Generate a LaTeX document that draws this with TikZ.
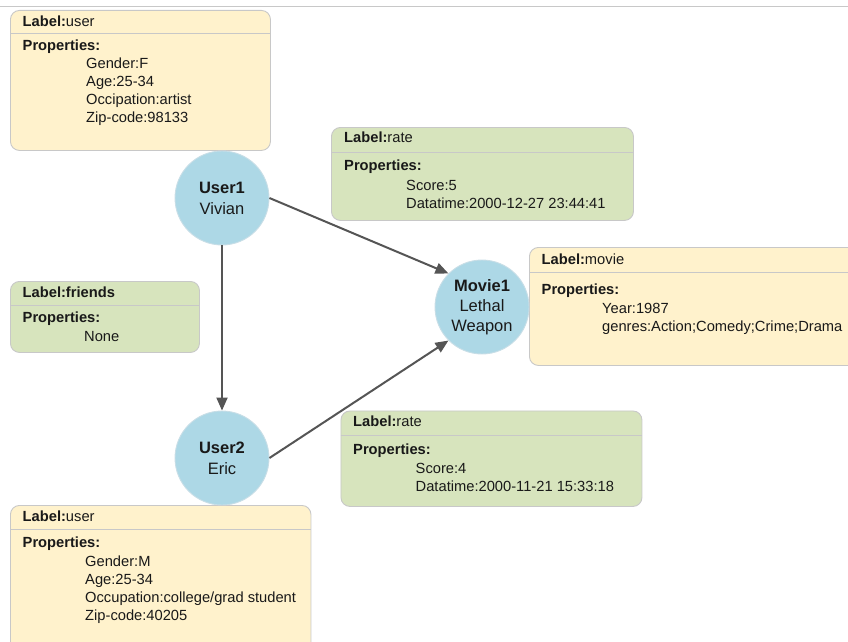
\documentclass[tikz,border=0pt]{standalone}
\usepackage{fontspec}
\setmainfont{Liberation Sans}
\usepackage{tikz}
\usetikzlibrary{arrows.meta}
\definecolor{usrfill}{RGB}{255,242,204}
\definecolor{relfill}{RGB}{215,228,189}
\definecolor{boxline}{RGB}{200,200,200}
\definecolor{nodefill}{RGB}{173,216,230}
\definecolor{nodeline}{RGB}{200,222,230}
\definecolor{edgegray}{RGB}{85,85,85}
\definecolor{txtdark}{RGB}{25,25,25}

\begin{document}
\begin{tikzpicture}[
        x=1pt, y=-1pt,
        every node/.style={text=txtdark},
        ybox/.style={draw=boxline, fill=usrfill, rounded corners=9pt, anchor=north west, inner sep=0pt, line width=0.9pt},
        gbox/.style={draw=boxline, fill=relfill, rounded corners=9pt, anchor=north west, inner sep=0pt, line width=0.9pt},
        sepline/.style={draw=boxline, line width=0.9pt},
        hdr/.style={anchor=base west, inner sep=0pt, font=\fontsize{14.7}{18.3}\selectfont},
        prop/.style={anchor=base west, inner sep=0pt, font=\fontsize{14.7}{18.3}\selectfont\bfseries},
        vals/.style={anchor=base west, inner sep=0pt, align=left, font=\fontsize{14.7}{18.3}\selectfont},
        ent/.style={circle, draw=nodeline, fill=nodefill, line width=0.9pt, minimum size=94pt, inner sep=0pt, align=center, font=\fontsize{16.5}{21}\selectfont},
        arr/.style={-{Triangle[length=13pt,width=11pt]}, draw=edgegray, line width=2pt}
      ]
        \useasboundingbox (0,0) rectangle (848,642);
        \clip (0,0) rectangle (848,642);
        \draw[boxline, line width=1pt] (0,7) -- (848,7);

        % user boxes (vals are placed at the baseline of their last line)
        \node[ybox, minimum width=260pt, minimum height=140pt] (u1box) at (10,10) {};
        \draw[sepline] ([yshift=-23.5pt]u1box.north west) -- ([yshift=-23.5pt]u1box.north east);
        \node[hdr] (u1hdr) at (22.5,27) {\textbf{Label:}user};
        \node[prop] (u1prop) at (22.5,50.5) {Properties:};
        \node[vals] (u1vals) at (86,122.9) {Gender:F\\Age:25-34\\Occipation:artist\\Zip-code:98133};

        \node[ybox, minimum width=300.5pt, minimum height=150pt] (u2box) at (10,505) {};
        \draw[sepline] ([yshift=-24pt]u2box.north west) -- ([yshift=-24pt]u2box.north east);
        \node[hdr] (u2hdr) at (22.5,521) {\textbf{Label:}user};
        \node[prop] (u2prop) at (22.5,547) {Properties:};
        \node[vals] (u2vals) at (85,620.9) {Gender:M\\Age:25-34\\Occupation:college/grad student\\Zip-code:40205};

        % movie box
        \node[ybox, minimum width=340pt, minimum height=118pt] (mvbox) at (529,247) {};
        \draw[sepline] ([yshift=-25pt]mvbox.north west) -- ([yshift=-25pt]mvbox.north east);
        \node[hdr] (mvhdr) at (541.5,264) {\textbf{Label:}movie};
        \node[prop] (mvprop) at (541.5,294) {Properties:};
        \node[vals] (mvvals) at (602,331.3) {Year:1987\\genres:Action;Comedy;Crime;Drama};

        % relation boxes
        \node[gbox, minimum width=302pt, minimum height=93pt] (r1box) at (331,127) {};
        \draw[sepline] ([yshift=-25pt]r1box.north west) -- ([yshift=-25pt]r1box.north east);
        \node[hdr] (r1hdr) at (344,142.5) {\textbf{Label:}rate};
        \node[prop] (r1prop) at (344,170) {Properties:};
        \node[vals] (r1vals) at (406,208.3) {Score:5\\Datatime:2000-12-27 23:44:41};

        \node[gbox, minimum width=301pt, minimum height=95.5pt] (r2box) at (340.5,410.5) {};
        \draw[sepline] ([yshift=-24.5pt]r2box.north west) -- ([yshift=-24.5pt]r2box.north east);
        \node[hdr] (r2hdr) at (353,426.5) {\textbf{Label:}rate};
        \node[prop] (r2prop) at (353,454.5) {Properties:};
        \node[vals] (r2vals) at (415.5,491.3) {Score:4\\Datatime:2000-11-21 15:33:18};

        \node[gbox, minimum width=189pt, minimum height=71pt] (frbox) at (10,281) {};
        \draw[sepline] ([yshift=-24.5pt]frbox.north west) -- ([yshift=-24.5pt]frbox.north east);
        \node[hdr] (frhdr) at (22.5,297) {\textbf{Label:friends}};
        \node[prop] (frprop) at (22.5,322) {Properties:};
        \node[vals] (frvals) at (84,341) {None};

        % entities
        \node[ent] (user1) at (222,198) {\textbf{User1}\\Vivian};
        \node[ent] (user2) at (222,458) {\textbf{User2}\\Eric};
        \node[ent, font=\fontsize{16.5}{20}\selectfont] (movie1) at (482,307) {\textbf{Movie1}\\Lethal\\Weapon};

        \draw[arr] (user1.south) -- (user2.north);
        \draw[arr] (user1.east) -- (movie1.north west);
        \draw[arr] (user2.east) -- (movie1.south west);
      \end{tikzpicture}
\end{document}
